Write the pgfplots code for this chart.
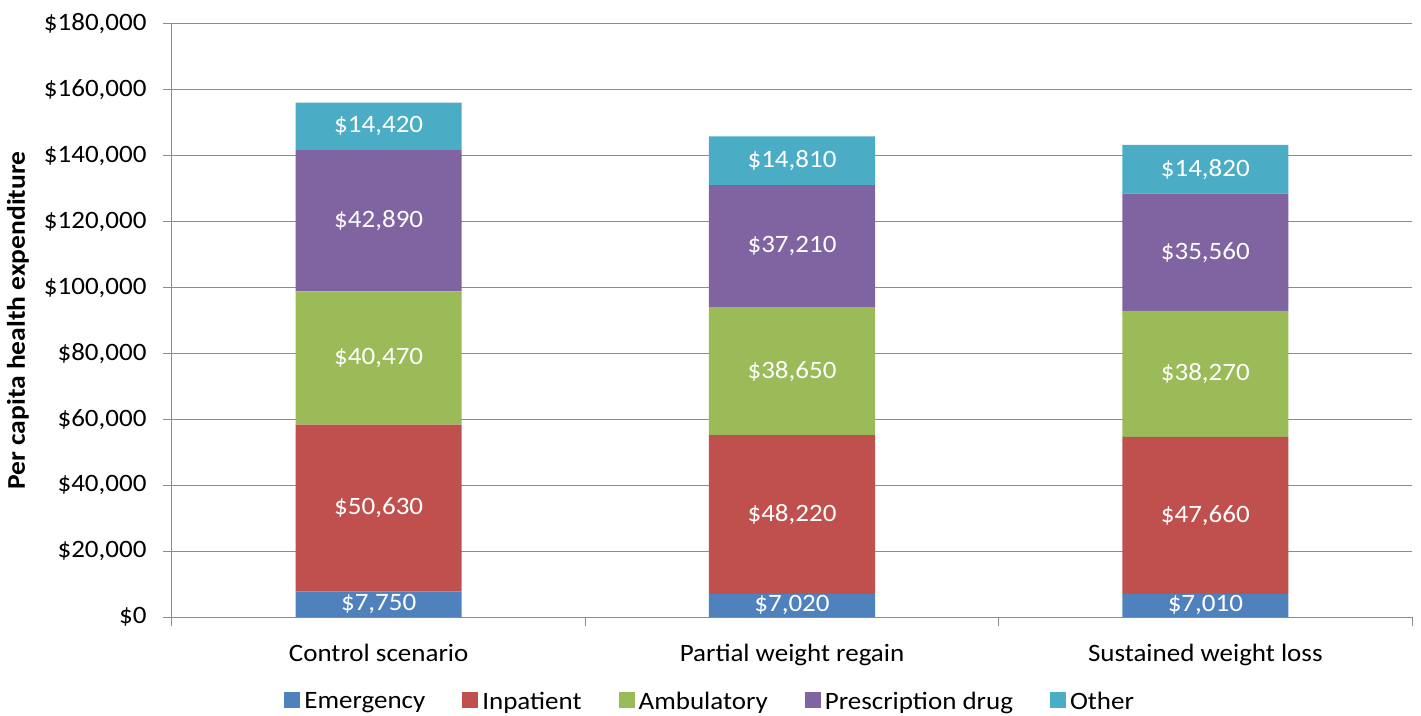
\documentclass[border=0pt]{standalone}
\usepackage{pgfplots}
\pgfplotsset{compat=1.18}
\usepackage{fontspec}
\setmainfont{Carlito}[FakeStretch=1.08]
\definecolor{cEm}{HTML}{4F81BD}
\definecolor{cIn}{HTML}{C0504D}
\definecolor{cAm}{HTML}{9BBB59}
\definecolor{cPr}{HTML}{8064A2}
\definecolor{cOt}{HTML}{4BACC6}
\definecolor{axgray}{HTML}{8C8C8C}
\begin{document}
\begin{tikzpicture}
\useasboundingbox (-172pt,-98pt) rectangle (1249pt,617pt);
\begin{axis}[
  at={(0,0)}, anchor=south west,
  scale only axis,
  width=1240pt, height=593pt,
  ybar stacked,
  bar width=0.402,
  xmin=-0.5, xmax=2.5,
  ymin=0, ymax=180000,
  ytick={0,20000,...,180000},
  xtick={0,1,2},
  xticklabels={Control scenario, Partial weight regain, Sustained weight loss},
  minor xtick={-0.5,0.5,1.5,2.5},
  major x tick style={draw=none},
  tick align=outside,
  major tick length=9pt,
  minor tick length=9pt,
  tick style={axgray, line width=1pt},
  axis x line*=bottom,
  axis y line*=left,
  axis line style={-, axgray, line width=1pt},
  ymajorgrids,
  grid style={axgray, line width=1pt},
  /pgf/number format/assume math mode=true,
  yticklabel={\$\pgfmathprintnumber[fixed,1000 sep={,}]{\tick}},
  scaled y ticks=false,
  ticklabel style={font=\fontsize{25}{30}\selectfont, text=black},
  yticklabel style={xshift=-13pt},
  xticklabel style={yshift=-15pt},
  ylabel={\textbf{Per capita health expenditure}},
  every axis y label/.style={at={(rel axis cs:-0.1242,0.5)}, rotate=90, anchor=center, font=\fontsize{25.5}{30}\selectfont},
  legend style={at={(0.434,0)}, anchor=north, yshift=-71pt, draw=none, fill=none,
    font=\fontsize{25}{30}\selectfont, legend columns=-1,
    /tikz/every odd column/.append style={column sep=2pt},
    /tikz/every even column/.append style={column sep=35pt}},
  legend image code/.code={\fill[#1] (0pt,-6pt) rectangle (16pt,10pt);},
]
\addplot[fill=cEm, draw=none] coordinates {(0,7750) (1,7020) (2,7010)};
\addplot[fill=cIn, draw=none] coordinates {(0,50630) (1,48220) (2,47660)};
\addplot[fill=cAm, draw=none] coordinates {(0,40470) (1,38650) (2,38270)};
\addplot[fill=cPr, draw=none] coordinates {(0,42890) (1,37210) (2,35560)};
\addplot[fill=cOt, draw=none] coordinates {(0,14420) (1,14810) (2,14820)};
\legend{Emergency, Inpatient, Ambulatory, Prescription drug, Other}
\end{axis}
\begin{axis}[
  at={(0,0)}, anchor=south west,
  scale only axis,
  width=1240pt, height=593pt,
  xmin=-0.5, xmax=2.5,
  ymin=0, ymax=180000,
  hide axis,
  clip=false,
  /pgf/number format/assume math mode=true,
]
% label positions: middle of each stacked segment; meta = segment value
\addplot[draw=none, mark=none, point meta=explicit,
  nodes near coords={\$\pgfmathprintnumber[fixed,precision=0,1000 sep={,},assume math mode=true]{\pgfplotspointmeta}},
  every node near coord/.style={anchor=center, text=white, font=\fontsize{25}{30}\selectfont}]
  table[meta=v] {
x y v
0 3875 7750
0 33065 50630
0 78615 40470
0 120295 42890
0 148950 14420
1 3510 7020
1 31130 48220
1 74565 38650
1 112495 37210
1 138505 14810
2 3505 7010
2 30840 47660
2 73805 38270
2 110720 35560
2 135910 14820
};
\end{axis}
\end{tikzpicture}
\end{document}
